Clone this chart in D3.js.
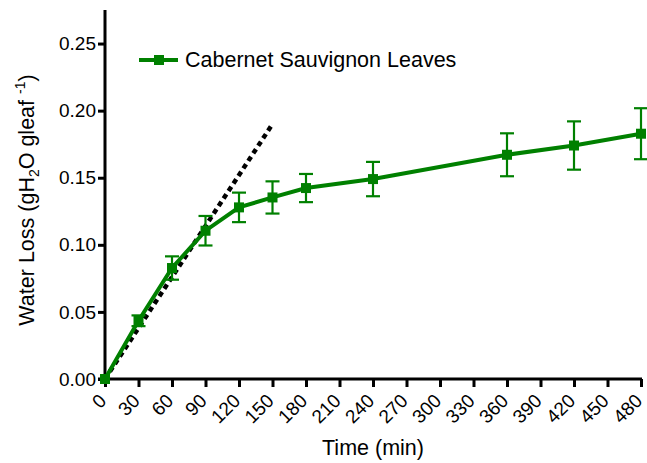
<!DOCTYPE html>
<html lang="en">
<head>
    <meta charset="UTF-8">
    <title>Water Loss</title>
    <script src="https://d3js.org/d3.v7.min.js"></script>
    <style>
        body { margin: 0; background: #fff; }
        text { font-family: "Liberation Sans", Arial, sans-serif; fill: #000; }
    </style>
</head>
<body>
<div id="chart"></div>
<script>

    // Data
    var times = [0, 30, 60, 90, 120, 150, 180, 240, 360, 420, 480];
    var waterLoss = [0, 0.0434, 0.0827, 0.1105, 0.1279, 0.1353, 0.1423, 0.149, 0.1671, 0.174, 0.1828];
    var errors = [0.002, 0.004, 0.0087, 0.011, 0.011, 0.012, 0.0105, 0.0128, 0.016, 0.018, 0.019];
    var fitTimes = [0, 150];
    var fitValues = [0, 0.19];
    var xTicks = d3.range(0, 481, 30);
    var yTicks = [0, 0.05, 0.10, 0.15, 0.20, 0.25];
    var seriesName = "Cabernet Sauvignon Leaves";

    var width = 647, height = 463;
    var green = "#008000";

    var svg = d3.select("#chart")
        .append("svg")
        .attr("width", width)
        .attr("height", height);

    var x = d3.scaleLinear().domain([0, 480]).range([105, 641]);
    var y = d3.scaleLinear().domain([0, 0.275]).range([379, 10]);

    // Axes
    var yAxis = svg.append("g")
        .attr("transform", "translate(105,0)")
        .call(d3.axisLeft(y).tickValues(yTicks).tickFormat(d3.format(".2f")).tickSize(7).tickSizeOuter(0));
    yAxis.select(".domain").attr("stroke-width", 3).attr("d", "M0,10V381");
    yAxis.selectAll(".tick line").attr("stroke-width", 3);
    yAxis.selectAll(".tick text").attr("x", -9).attr("font-size", 19);

    var xAxis = svg.append("g")
        .attr("transform", "translate(0,379)")
        .call(d3.axisBottom(x).tickValues(xTicks).tickFormat(d3.format("d")).tickSize(8).tickSizeOuter(0));
    xAxis.select(".domain").attr("stroke-width", 3).attr("d", "M98,0H642");
    xAxis.selectAll(".tick line").attr("stroke-width", 3);
    xAxis.selectAll(".tick text")
        .attr("font-size", 19)
        .attr("text-anchor", "end")
        .attr("dy", null)
        .attr("transform", "translate(2,23) rotate(-45)")
        .attr("y", 0).attr("x", 0);

    // Axis titles
    svg.append("text")
        .attr("x", 373).attr("y", 455)
        .attr("text-anchor", "middle")
        .attr("font-size", 21.5)
        .text("Time (min)");

    var yTitle = svg.append("text")
        .attr("transform", "translate(34,200) rotate(-90)")
        .attr("text-anchor", "middle")
        .attr("font-size", 21.5);
    yTitle.append("tspan").text("Water Loss (gH");
    yTitle.append("tspan").attr("font-size", 14).attr("dy", 5).text("2");
    yTitle.append("tspan").attr("dy", -5).text("O gleaf ");
    yTitle.append("tspan").attr("font-size", 14).attr("dy", -9).text("-1");
    yTitle.append("tspan").attr("dy", 9).text(")");

    // Dashed fit line
    var fitData = fitTimes.map(function (t, i) { return [t, fitValues[i]]; });
    svg.append("path")
        .datum(fitData)
        .attr("fill", "none")
        .attr("stroke", "#000")
        .attr("stroke-width", 4.5)
        .attr("stroke-dasharray", "5,4")
        .attr("d", d3.line().x(function (d) { return x(d[0]); }).y(function (d) { return y(d[1]); }));

    var pts = times.map(function (t, i) { return { t: t, v: waterLoss[i], e: errors[i] }; });

    // Series line
    svg.append("path")
        .datum(pts)
        .attr("fill", "none")
        .attr("stroke", green)
        .attr("stroke-width", 4)
        .attr("d", d3.line().x(function (d) { return x(d.t); }).y(function (d) { return y(d.v); }));

    // Error bars
    var eb = svg.append("g").attr("stroke", green).attr("stroke-width", 2.2);
    pts.forEach(function (d) {
        if (d.t === 0) return;
        var cx = x(d.t);
        eb.append("line").attr("x1", cx).attr("x2", cx).attr("y1", y(d.v + d.e)).attr("y2", y(d.v - d.e));
        eb.append("line").attr("x1", cx - 7).attr("x2", cx + 7).attr("y1", y(d.v + d.e)).attr("y2", y(d.v + d.e));
        eb.append("line").attr("x1", cx - 7).attr("x2", cx + 7).attr("y1", y(d.v - d.e)).attr("y2", y(d.v - d.e));
    });

    // Markers
    svg.append("g")
        .selectAll("rect")
        .data(pts)
        .enter()
        .append("rect")
        .attr("x", function (d) { return x(d.t) - 5; })
        .attr("y", function (d) { return y(d.v) - 5; })
        .attr("width", 10)
        .attr("height", 10)
        .attr("fill", green);

    // Legend
    svg.append("line")
        .attr("x1", 139).attr("x2", 178).attr("y1", 60).attr("y2", 60)
        .attr("stroke", green).attr("stroke-width", 4);
    svg.append("rect")
        .attr("x", 154).attr("y", 55).attr("width", 10).attr("height", 10)
        .attr("fill", green);
    svg.append("text")
        .attr("x", 185).attr("y", 67)
        .attr("font-size", 21.5)
        .text(seriesName);

</script>
</body>
</html>
